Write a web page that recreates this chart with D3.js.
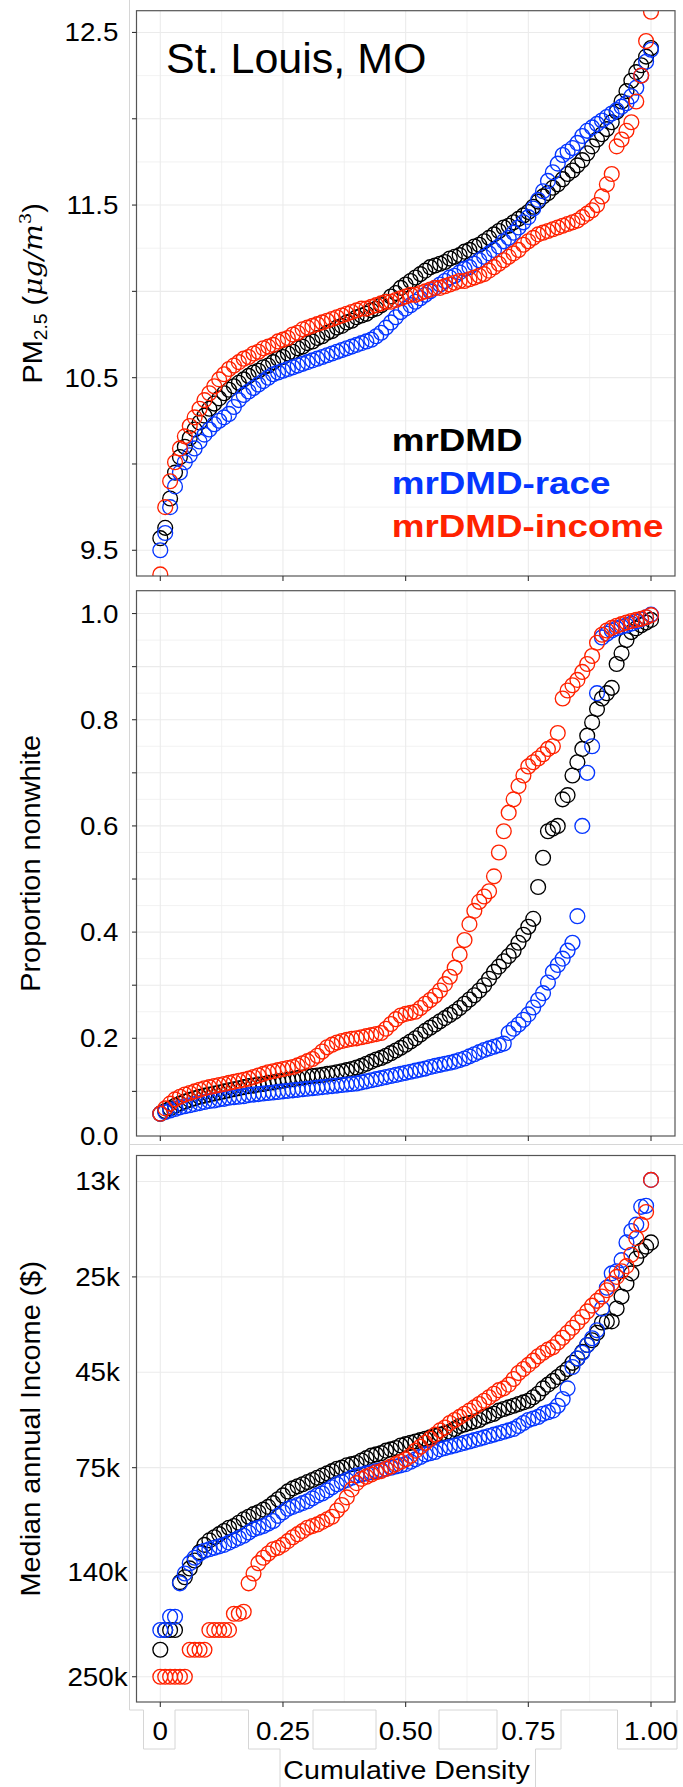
<!DOCTYPE html>
<html>
<head>
<meta charset="utf-8">
<script src="https://cdn.jsdelivr.net/npm/d3@7"></script>
<style>
  body { margin: 0; background: #fff; }
  text { font-family: "Liberation Sans", Arial, Helvetica, sans-serif; }
</style>
</head>
<body>
<script>
// ---- data ----
// cumulative density grid shared by every series
var cumDensity = d3.range(101).map(function(i) { return i / 100; });

var seriesNames = ["mrDMD", "mrDMD-race", "mrDMD-income"];
var seriesColors = ["#000000", "#0536ff", "#ff2200"];

// PM2.5 (ug/m3)
var pmBlack = [9.57,9.63,9.8,9.95,10.04,10.1,10.15,10.2,10.24,10.28,
  10.32,10.35,10.38,10.41,10.43,10.45,10.47,10.49,10.51,10.53,
  10.54,10.56,10.57,10.59,10.61,10.62,10.64,10.65,10.67,10.68,
  10.7,10.71,10.73,10.74,10.76,10.77,10.79,10.8,10.82,10.83,
  10.85,10.86,10.87,10.89,10.9,10.92,10.94,10.97,10.99,11.02,
  11.04,11.06,11.08,11.1,11.12,11.14,11.15,11.16,11.17,11.19,
  11.2,11.21,11.23,11.24,11.26,11.27,11.29,11.31,11.33,11.35,
  11.37,11.38,11.4,11.42,11.44,11.46,11.49,11.52,11.55,11.57,
  11.6,11.62,11.65,11.68,11.7,11.73,11.76,11.8,11.84,11.88,
  11.91,11.94,11.98,12.04,12.1,12.16,12.22,12.27,12.31,12.36,
  12.41];
var pmBlue = [9.5,9.6,9.75,9.87,9.95,10.01,10.05,10.09,10.13,10.17,
  10.2,10.23,10.25,10.27,10.29,10.33,10.37,10.4,10.42,10.44,
  10.46,10.48,10.5,10.52,10.53,10.54,10.55,10.56,10.57,10.58,
  10.59,10.6,10.61,10.62,10.63,10.64,10.65,10.66,10.67,10.68,
  10.69,10.7,10.71,10.72,10.74,10.76,10.79,10.82,10.85,10.88,
  10.9,10.92,10.94,10.96,10.98,11.0,11.02,11.04,11.06,11.08,
  11.09,11.11,11.13,11.14,11.16,11.18,11.2,11.22,11.24,11.26,
  11.29,11.31,11.34,11.37,11.4,11.43,11.48,11.53,11.58,11.64,
  11.69,11.74,11.79,11.81,11.83,11.86,11.9,11.93,11.95,11.97,
  11.99,12.01,12.03,12.05,12.07,12.09,12.13,12.18,12.25,12.33,
  12.4];
var pmRed = [9.36,9.75,9.9,10.01,10.09,10.16,10.22,10.27,10.32,10.37,
  10.41,10.45,10.49,10.52,10.55,10.57,10.59,10.61,10.62,10.64,
  10.65,10.67,10.68,10.69,10.71,10.72,10.73,10.75,10.76,10.78,
  10.79,10.8,10.81,10.82,10.83,10.84,10.85,10.86,10.87,10.88,
  10.89,10.9,10.9,10.91,10.92,10.93,10.94,10.94,10.95,10.96,
  10.97,10.98,10.98,10.99,11.0,11.01,11.02,11.02,11.03,11.04,
  11.05,11.06,11.06,11.07,11.08,11.09,11.1,11.12,11.14,11.16,
  11.18,11.2,11.22,11.24,11.27,11.29,11.31,11.33,11.34,11.35,
  11.36,11.37,11.38,11.39,11.4,11.41,11.43,11.45,11.47,11.5,
  11.55,11.62,11.68,11.84,11.88,11.93,11.98,12.1,12.25,12.45,
  12.62];

// proportion nonwhite
var nwBlack = [0.058,0.063,0.068,0.073,0.077,0.081,0.084,0.087,0.09,0.092,
  0.094,0.096,0.098,0.1,0.102,0.104,0.106,0.108,0.11,0.111,
  0.113,0.114,0.116,0.117,0.119,0.12,0.122,0.123,0.125,0.126,
  0.128,0.129,0.13,0.131,0.133,0.134,0.136,0.138,0.14,0.142,
  0.145,0.148,0.152,0.156,0.16,0.163,0.167,0.172,0.177,0.182,
  0.188,0.194,0.2,0.207,0.214,0.22,0.226,0.232,0.238,0.244,
  0.25,0.257,0.265,0.273,0.281,0.29,0.3,0.312,0.325,0.335,
  0.345,0.355,0.365,0.38,0.395,0.41,0.425,0.485,0.54,0.59,
  0.595,0.6,0.65,0.658,0.695,0.72,0.745,0.77,0.795,0.82,
  0.84,0.85,0.86,0.905,0.925,0.95,0.965,0.972,0.978,0.983,
  0.988];
var nwBlue = [0.058,0.061,0.064,0.067,0.07,0.072,0.074,0.076,0.078,0.08,
  0.082,0.083,0.085,0.086,0.088,0.089,0.09,0.091,0.093,0.094,
  0.095,0.096,0.097,0.098,0.099,0.1,0.101,0.102,0.103,0.104,
  0.105,0.106,0.107,0.108,0.109,0.11,0.111,0.112,0.113,0.114,
  0.115,0.117,0.119,0.121,0.123,0.125,0.127,0.129,0.131,0.133,
  0.135,0.137,0.139,0.141,0.143,0.146,0.148,0.15,0.152,0.154,
  0.156,0.159,0.162,0.166,0.17,0.174,0.178,0.181,0.184,0.187,
  0.19,0.21,0.218,0.226,0.235,0.245,0.258,0.272,0.285,0.305,
  0.325,0.338,0.35,0.365,0.38,0.43,0.6,0.7,0.75,0.85,
  0.955,0.962,0.968,0.972,0.975,0.978,0.981,0.985,0.989,0.993,
  0.998];
var nwRed = [0.058,0.068,0.077,0.085,0.09,0.094,0.097,0.1,0.103,0.106,
  0.108,0.11,0.112,0.114,0.116,0.118,0.12,0.122,0.124,0.127,
  0.13,0.133,0.136,0.138,0.14,0.142,0.144,0.146,0.149,0.153,
  0.157,0.161,0.167,0.175,0.183,0.188,0.192,0.195,0.197,0.199,
  0.2,0.202,0.204,0.206,0.208,0.21,0.218,0.227,0.236,0.243,
  0.246,0.248,0.25,0.257,0.265,0.272,0.28,0.29,0.302,0.316,
  0.333,0.358,0.385,0.415,0.44,0.457,0.467,0.477,0.505,0.55,
  0.59,0.625,0.65,0.675,0.695,0.712,0.72,0.727,0.735,0.745,
  0.75,0.775,0.84,0.855,0.865,0.875,0.89,0.905,0.92,0.945,
  0.96,0.968,0.973,0.977,0.98,0.983,0.986,0.988,0.99,0.993,
  0.997];

// median annual income, thousands of $
var incBlack = [214,191,191,191,145,141,134,128,122,117,
  114,112,110,108,106,105,103,101,99.5,98,
  97,95.5,94,92,90,88,86,84.5,83.5,82.5,
  81.5,80.5,79.5,78.5,77.5,76.5,75.5,75,74,73.5,
  73,72,71,70,69.5,69,68,67.5,67,66,
  65.5,65,64.5,64,63.5,63,62.5,62,61.5,61,
  60,59,58.5,58,57.5,57,56,55.5,55,54,
  53.5,53,52.5,52,51.5,51,50,49,47.5,46.5,
  45.5,44.5,43.5,42.5,41,40,38.5,37,36,34.5,
  32.5,32.3,32.3,30,28,26,24.5,22.5,21.5,21,
  20.5];
var incBlue = [191,191,177,177,146,138,130,126,123,121,
  120,119,118,117,115.5,114,112.5,111,109,107,
  106,105,103.5,102,99,97,95,94,93,92,
  91,89.5,88,87,85.5,84,82.5,81.5,80.5,79.5,
  78.5,78,77.5,77,76.5,76,75.5,75,74.5,74,
  73.5,72.5,71.5,70.5,69.5,69,68.5,67.5,67,66.5,
  66,65.5,65,64.5,64,63.5,63,62.5,62,61.5,
  61,60.5,60,59,58,57,56.5,56,55,54.5,
  54,52.5,50.5,47.5,42,40,38.7,37,35.6,34,
  30,26.6,24.5,24.2,22.7,20.5,19.2,18.5,16.7,16.6,
  14.3];
var incRed = [250,250,250,250,250,250,214,214,214,214,
  191,191,191,191,191,174,174,172,146,138,
  130,126,123,120,119,117,114.5,112,110,108,
  106,105,104,102.5,101,99.5,96,93,89,85,
  82,80,79,78,77,76.5,75.5,74.5,73.5,72.5,
  71.5,70,68,66.5,65,63.5,62,60.5,59.5,58,
  57,56,55,54,53,52,51,50,49,48,
  47.5,46.5,45,43.5,42.5,41.5,40.5,39.5,38.7,38,
  37.5,36.5,35.5,34.5,33.5,32.5,31.5,30.5,29.5,28.7,
  28,27,26,25,24.2,23.5,22,20,18.5,17.2,
  14.3];

// axis breaks and labels
var xTicks = [0, 0.25, 0.5, 0.75, 1];
var xMinor = [0.125, 0.375, 0.625, 0.875];
var xTickLabels = ["0", "0.25", "0.50", "0.75", "1.00"];

var pmTicks = [9.5, 10, 10.5, 11, 11.5, 12, 12.5];
var pmMinor = [9.75, 10.25, 10.75, 11.25, 11.75, 12.25];
var pmLabelVals = [9.5, 10.5, 11.5, 12.5];
var pmLabels = ["9.5", "10.5", "11.5", "12.5"];

var nwTicks = [0.1, 0.2, 0.3, 0.4, 0.5, 0.6, 0.7, 0.8, 0.9, 1.0];
var nwMinor = [0.05, 0.15, 0.25, 0.35, 0.45, 0.55, 0.65, 0.75, 0.85, 0.95];
var nwLabelVals = [0, 0.2, 0.4, 0.6, 0.8, 1.0];
var nwLabels = ["0.0", "0.2", "0.4", "0.6", "0.8", "1.0"];

var incTicks = [25, 75, 250];
var incGrid = [14.43, 25, 43.3, 75, 136.9, 250];
var incLabels = ["13k", "25k", "45k", "75k", "140k", "250k"];

// ---- layout ----
var width = 683, height = 1787;
var panelLeft = 136.5, panelRight = 675;

var svg = d3.select("body")
            .append("svg")
            .attr("width", width)
            .attr("height", height);

var x = d3.scaleLinear().domain([0, 1]).range([160.3, 651]);

// faint outlines left over from the pasted-together panels
var seam = svg.append("g")
              .attr("fill", "none")
              .attr("stroke", "#d6d6d6")
              .attr("stroke-width", 1);
seam.append("path")
    .attr("d", "M129.5,0V1710H143.5V1749H175V1710H248.5V1749H280V1787");
seam.append("path").attr("d", "M129.5,1144.5H683");
seam.append("path").attr("d", "M313,1710H376V1749H313Z");
seam.append("path").attr("d", "M439,1710H497V1749H439Z");
seam.append("path")
    .attr("d", "M535.5,1787V1749H561V1710H617.5V1749H677V1710");

function drawPanel(p) {
  var g = svg.append("g");

  svg.append("clipPath")
     .attr("id", "clip-" + p.name)
     .append("rect")
     .attr("x", panelLeft)
     .attr("y", p.top)
     .attr("width", panelRight - panelLeft)
     .attr("height", p.bottom - p.top);

  g.append("rect")
   .attr("x", panelLeft)
   .attr("y", p.top)
   .attr("width", panelRight - panelLeft)
   .attr("height", p.bottom - p.top)
   .attr("fill", "#fff");

  // grid
  g.selectAll(".gx-minor").data(xMinor).enter().append("line")
   .attr("x1", function(d) { return x(d); })
   .attr("x2", function(d) { return x(d); })
   .attr("y1", p.top).attr("y2", p.bottom)
   .attr("stroke", "#efefef").attr("stroke-width", 0.8);
  g.selectAll(".gy-minor").data(p.minor).enter().append("line")
   .attr("x1", panelLeft).attr("x2", panelRight)
   .attr("y1", function(d) { return p.y(d); })
   .attr("y2", function(d) { return p.y(d); })
   .attr("stroke", "#efefef").attr("stroke-width", 0.8);
  g.selectAll(".gx").data(xTicks).enter().append("line")
   .attr("x1", function(d) { return x(d); })
   .attr("x2", function(d) { return x(d); })
   .attr("y1", p.top).attr("y2", p.bottom)
   .attr("stroke", "#ebebeb").attr("stroke-width", 1.1);
  g.selectAll(".gy").data(p.grid).enter().append("line")
   .attr("x1", panelLeft).attr("x2", panelRight)
   .attr("y1", function(d) { return p.y(d); })
   .attr("y2", function(d) { return p.y(d); })
   .attr("stroke", "#ebebeb").attr("stroke-width", 1.1);

  // points: one group per series, red drawn last
  p.series.forEach(function(s, k) {
    g.append("g")
     .attr("clip-path", "url(#clip-" + p.name + ")")
     .selectAll("circle")
     .data(s)
     .enter()
     .append("circle")
     .attr("cx", function(d, i) { return x(cumDensity[i]); })
     .attr("cy", function(d) { return p.y(d); })
     .attr("r", 7.4)
     .attr("fill", "none")
     .attr("stroke", seriesColors[k])
     .attr("stroke-width", 1.35);
  });

  g.append("rect")
   .attr("x", panelLeft)
   .attr("y", p.top)
   .attr("width", panelRight - panelLeft)
   .attr("height", p.bottom - p.top)
   .attr("fill", "none")
   .attr("stroke", "#555")
   .attr("stroke-width", 1.2);

  // tick marks
  g.selectAll(".ty").data(p.ticks).enter().append("line")
   .attr("x1", panelLeft - 4.5).attr("x2", panelLeft)
   .attr("y1", function(d) { return p.y(d); })
   .attr("y2", function(d) { return p.y(d); })
   .attr("stroke", "#333").attr("stroke-width", 1.1);
  g.selectAll(".tx").data(xTicks).enter().append("line")
   .attr("x1", function(d) { return x(d); })
   .attr("x2", function(d) { return x(d); })
   .attr("y1", p.bottom).attr("y2", p.bottom + 5)
   .attr("stroke", "#333").attr("stroke-width", 1.1);

  // tick labels
  g.selectAll(".ly").data(p.labelVals).enter().append("text")
   .attr("transform", function(d) {
        var yy = d === 0 ? p.y(d) + 0.5 : p.y(d) + 9;
        return "translate(" + p.labelX + "," + yy + ") scale(1.11,1)";
   })
   .attr("text-anchor", p.labelAnchor)
   .attr("font-size", "25px")
   .attr("fill", "#000")
   .text(function(d, i) { return p.labels[i]; });

  // y axis title
  var t = g.append("text")
           .attr("transform", "translate(" + p.titleX + "," + ((p.top + p.bottom) / 2) +
                 ") rotate(-90) scale(1.07,1)")
           .attr("text-anchor", "middle")
           .attr("font-size", "27px")
           .attr("fill", "#000");
  p.title(t);
  return g;
}

var top1 = drawPanel({
  name: "pm", top: 10.7, bottom: 576,
  y: d3.scaleLinear().domain([9.351, 12.626]).range([576, 10.7]),
  grid: pmTicks, minor: pmMinor, ticks: pmTicks,
  labelVals: pmLabelVals, labels: pmLabels, labelX: 118.5, labelAnchor: "end",
  series: [pmBlack, pmBlue, pmRed],
  titleX: 42,
  title: function(t) {
    t.append("tspan").text("PM");
    t.append("tspan").attr("font-size", "18px").attr("dy", 5).text("2.5");
    t.append("tspan").attr("dy", -5).text(" (");
    t.append("tspan").attr("font-family", "'DejaVu Serif', 'Liberation Serif', serif")
     .attr("font-style", "italic").attr("font-size", "26px").text("\u03bcg/m");
    t.append("tspan").attr("font-family", "'DejaVu Serif', 'Liberation Serif', serif")
     .attr("font-size", "17px").attr("dy", -11).text("3");
    t.append("tspan").attr("dy", 11).text(")");
  }
});

drawPanel({
  name: "nw", top: 590.7, bottom: 1136,
  y: d3.scaleLinear().domain([0.016, 1.043]).range([1136, 590.7]),
  grid: nwTicks, minor: nwMinor, ticks: nwTicks,
  labelVals: nwLabelVals, labels: nwLabels, labelX: 118.5, labelAnchor: "end",
  series: [nwBlack, nwBlue, nwRed],
  titleX: 39.5,
  title: function(t) { t.text("Proportion nonwhite"); }
});

drawPanel({
  name: "inc", top: 1155.5, bottom: 1702,
  y: d3.scaleLog().domain([12.425, 289.17]).range([1155.5, 1702]),
  grid: incGrid, minor: [], ticks: incTicks,
  labelVals: incGrid, labels: incLabels, labelX: 97.5, labelAnchor: "middle",
  series: [incBlack, incBlue, incRed],
  titleX: 40,
  title: function(t) { t.text("Median annual Income ($)"); }
});

// x axis labels under the last panel
svg.selectAll(".lx").data(xTicks).enter().append("text")
   .attr("transform", function(d) { return "translate(" + x(d) + ",1740) scale(1.11,1)"; })
   .attr("text-anchor", "middle")
   .attr("font-size", "25px")
   .text(function(d, i) { return xTickLabels[i]; });

svg.append("text")
   .attr("transform", "translate(406.5,1779) scale(1.1,1)")
   .attr("text-anchor", "middle")
   .attr("font-size", "26px")
   .text("Cumulative Density");

// title and legend inside the first panel
top1.append("text")
    .attr("x", 166)
    .attr("y", 72.5)
    .attr("font-size", "43px")
    .text("St. Louis, MO");

var legendY = [451, 494, 537];
top1.selectAll(".legend").data(seriesNames).enter().append("text")
    .attr("transform", function(d, i) { return "translate(391.7," + legendY[i] + ") scale(1.15,1)"; })
    .attr("font-size", "32px")
    .attr("font-weight", "bold")
    .attr("fill", function(d, i) { return seriesColors[i]; })
    .text(function(d) { return d; });
</script>
</body>
</html>
